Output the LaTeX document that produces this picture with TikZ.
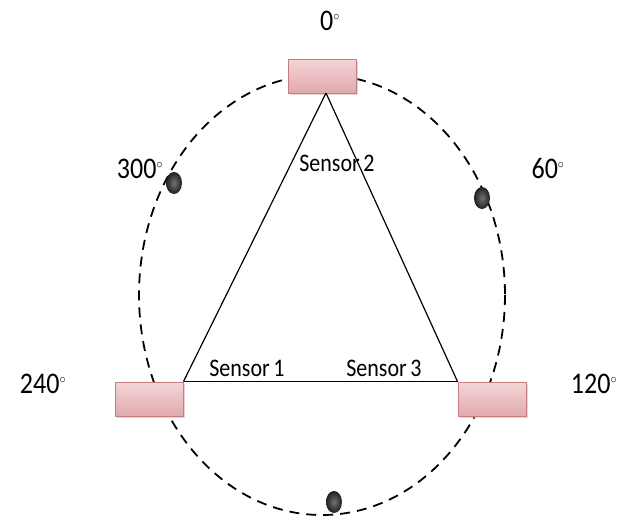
\documentclass[tikz,border=0pt]{standalone}
\usepackage{fontspec}
\setmainfont{Carlito}
\usetikzlibrary{positioning, shapes.geometric, shadows}

\definecolor{boxpink}{RGB}{236,178,182}
\definecolor{boxedge}{RGB}{196,126,130}

\newcommand{\angdeg}{\ensuremath{^{\scriptscriptstyle\circ}}}

\tikzset{
	sensorbox/.style={draw=boxedge, line width=1pt, minimum width=68pt, minimum height=34pt,
			inner sep=0pt, top color=boxpink!55, bottom color=boxpink!95!black,
			drop shadow={shadow xshift=2pt, shadow yshift=-2pt, fill=boxedge!60, opacity=0.6}}
}
\tikzset{
	ball/.style={ellipse, minimum width=16pt, minimum height=22pt, inner sep=0pt,
			inner color=black!55, outer color=black!88}
}
\tikzset{
	anglelabel/.style={font=\fontsize{26}{28}\selectfont}
}
\tikzset{
	sensorlabel/.style={font=\fontsize{22}{24}\selectfont, inner sep=0pt}
}

\begin{document}
\begin{tikzpicture}[x=1pt, y=-1pt]
			\useasboundingbox (0,0) rectangle (618,523);

			% dashed track
			\draw[dashed, dash pattern=on 10pt off 7pt, line width=1.8pt] (322,295) ellipse [x radius=183, y radius=220];

			\begin{scope}
				\node[sensorbox] (s2) at (322,76) {};
				\node[sensorbox] (s1) at (149,399) {};
				\node[sensorbox] (s3) at (492,399) {};
			\end{scope}

			% triangle between the sensors
			\coordinate (top) at (326,93);
			\draw[line width=1.2pt] (top) -- (s1.north east);
			\draw[line width=1.2pt] (top) -- (s3.north west);
			\draw[line width=1.8pt] (s1.north east) -- (s3.north west);

			\begin{scope}
				\node[ball] (b300) at (174,183) {};
				\node[ball] (b60) at (482,198) {};
				\node[ball] (b180) at (334,502) {};
			\end{scope}

			\node[anglelabel] (a0) at (330,21) {\scalebox{1}[1.15]{0\angdeg}};
			\node[anglelabel] (a300) at (140,169) {\scalebox{1}[1.15]{300\angdeg}};
			\node[anglelabel] (a60) at (548,169) {\scalebox{1}[1.15]{60\angdeg}};
			\node[anglelabel] (a240) at (43,384) {\scalebox{1}[1.15]{240\angdeg}};
			\node[anglelabel] (a120) at (594,384) {\scalebox{1}[1.15]{120\angdeg}};

			\node[sensorlabel] (l2) at (337,163) {\scalebox{1}[1.15]{Sensor\,2}};
			\node[sensorlabel] (l1) at (247,368) {\scalebox{1}[1.15]{Sensor\,1}};
			\node[sensorlabel] (l3) at (384,368) {\scalebox{1}[1.15]{Sensor\,3}};

		\end{tikzpicture}
\end{document}
